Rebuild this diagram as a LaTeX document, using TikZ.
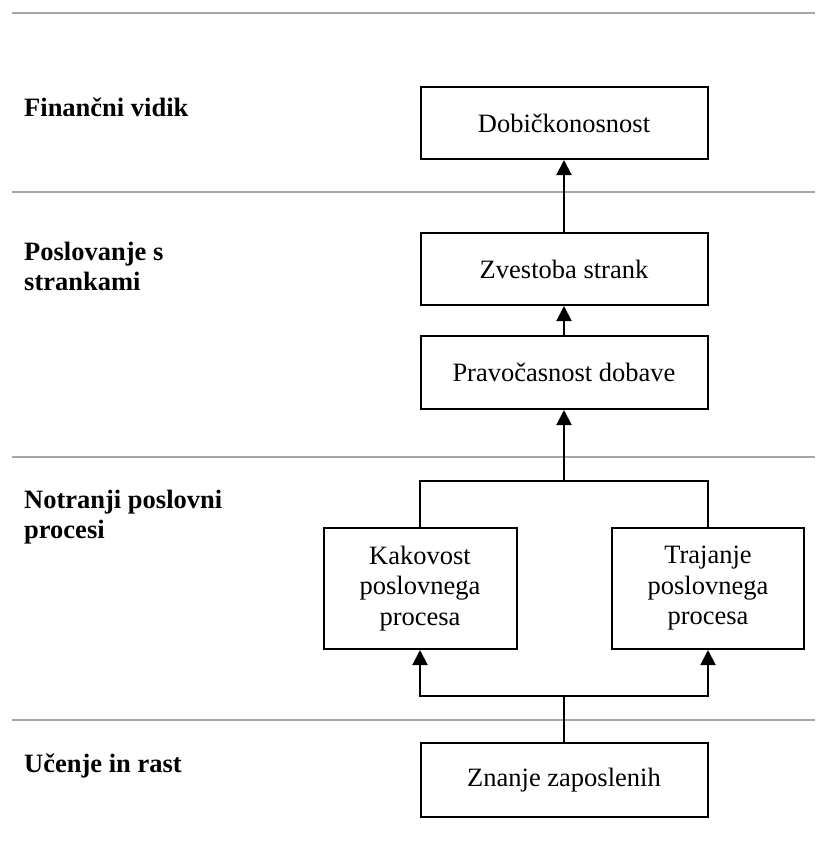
\documentclass[tikz,border=0pt]{standalone}
\usepackage{fontspec}
\setmainfont{Liberation Serif}
\usetikzlibrary{arrows.meta}

\begin{document}
\begin{tikzpicture}[
  x=1pt, y=-1pt,
  every node/.style={font=\fontsize{26.5}{30.5}\selectfont},
  stage/.style={draw=black, line width=2pt, fill=white, align=center,
    inner sep=0pt, minimum width=287pt, minimum height=72pt},
  procbox/.style={stage, minimum width=193pt, minimum height=121pt},
  band/.style={draw=gray!70, line width=1.5pt},
  heading/.style={anchor=base west, inner sep=0pt,
    font=\fontsize{26.5}{30}\selectfont\bfseries},
  link/.style={draw=black, line width=2pt},
  flow/.style={link, -{Triangle[length=15pt, width=15pt]}}
]
\useasboundingbox (0,0) rectangle (815,843);

% perspective bands
\coordinate (b0l) at (12,13);  \coordinate (b0r) at (815,13);
\coordinate (b1l) at (12,192); \coordinate (b1r) at (815,192);
\coordinate (b2l) at (12,457); \coordinate (b2r) at (815,457);
\coordinate (b3l) at (12,720); \coordinate (b3r) at (815,720);
\draw[band] (b0l) -- (b0r);
\draw[band] (b1l) -- (b1r);
\draw[band] (b2l) -- (b2r);
\draw[band] (b3l) -- (b3r);

% perspective headings
\node[heading] (hfin) at (24,116) {Finančni vidik};
\node[heading] (hcust) at (24,260) {\vtop{\hbox{Poslovanje s}\hbox{strankami}}};
\node[heading] (hint) at (24,508) {\vtop{\hbox{Notranji poslovni}\hbox{procesi}}};
\node[heading] (hlearn) at (24,772) {Učenje in rast};

% objectives
\node[stage] (dobic) at (564,123) {Dobičkonosnost};
\node[stage] (zvest) at (564,269) {Zvestoba strank};
\node[stage, minimum height=73pt] (prav) at (564,372.5) {Pravočasnost dobave};
\node[procbox] (kak) at (420,588.5) {Kakovost\\poslovnega\\procesa};
\node[procbox, minimum width=192pt] (traj) at (708,588.5) {Trajanje\\poslovnega\\procesa};
\node[stage, minimum height=74pt] (znanje) at (564,780) {Znanje zaposlenih};

% cause-and-effect links
\coordinate (up) at (564,481);
\coordinate (low) at (564,696);

\draw[flow] (zvest.north) -- (dobic.south);
\draw[flow] (prav.north) -- (zvest.south);
\draw[link] (kak.north) |- (up) -| (traj.north);
\draw[flow] (up) -- (prav.south);
\draw[link] (znanje.north) -- (low);
\draw[flow] (low) -| (kak.south);
\draw[flow] (low) -| (traj.south);
\end{tikzpicture}
\end{document}
